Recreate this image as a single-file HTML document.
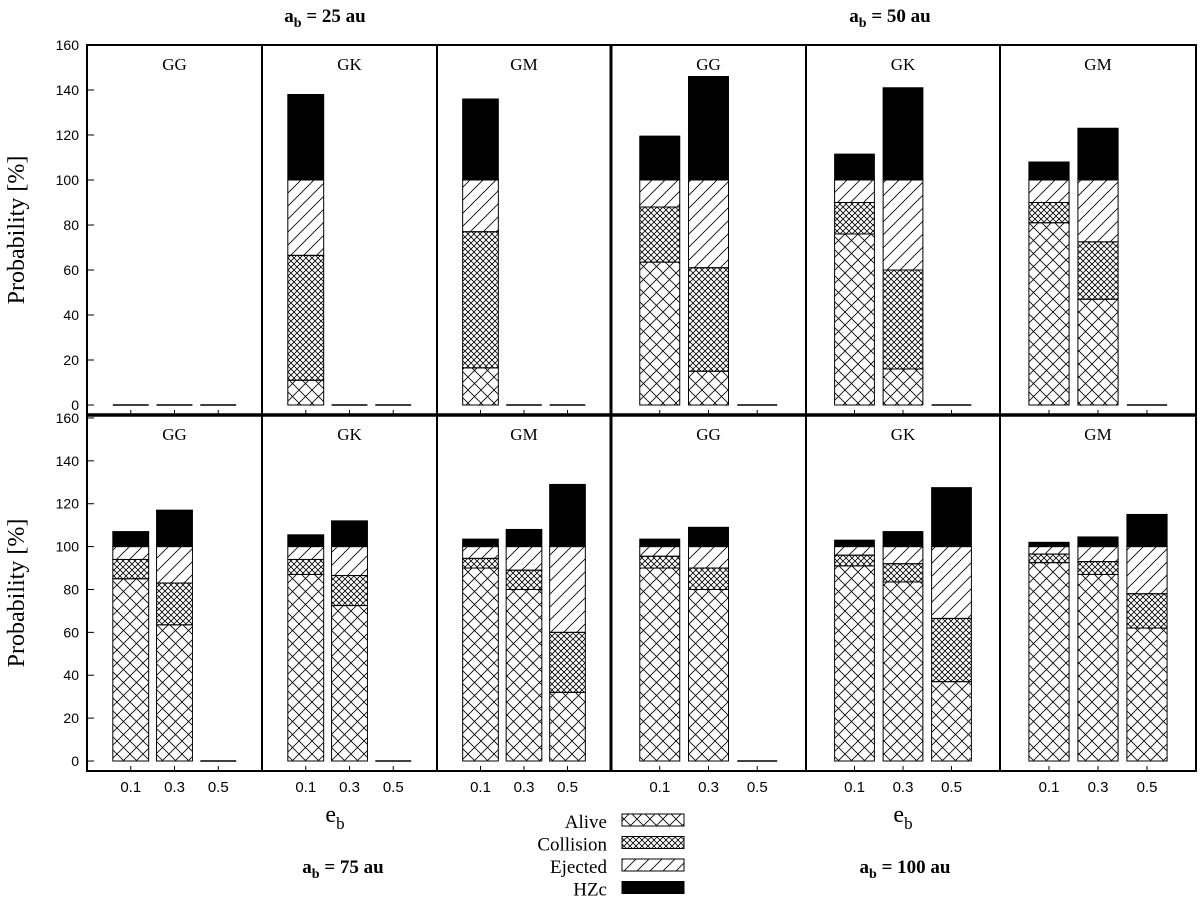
<!DOCTYPE html>
<html><head><meta charset="utf-8"><style>
body{margin:0;background:#fff;}
svg{display:block;font-family:"Liberation Serif",serif;}
</style></head><body>
<svg id="chart" width="1200" height="900" viewBox="0 0 1200 900" xmlns="http://www.w3.org/2000/svg">
<defs>
<pattern id="pAlive" patternUnits="userSpaceOnUse" width="13" height="13"><path d="M0 0L13 13M13 0L0 13" stroke="#000" stroke-width="0.8"/></pattern>
<pattern id="pColl" patternUnits="userSpaceOnUse" width="6" height="6"><path d="M0 0L6 6M6 0L0 6" stroke="#000" stroke-width="0.8"/></pattern>
<pattern id="pEj" patternUnits="userSpaceOnUse" width="13" height="13"><path d="M0 13L13 0M-3 3L3 -3M10 16L16 10" stroke="#000" stroke-width="0.8"/></pattern>
</defs>
</svg>
<script>
const eccLabels=["0.1","0.3","0.5"];
const panelNames=["GG","GK","GM","GG","GK","GM","GG","GK","GM","GG","GK","GM"];
const yTicks=[0,20,40,60,80,100,120,140,160];
// per panel, per eccentricity: Alive, Collision, Ejected, HZc (percent)
const alive=[[0,0,0],[11,0,0],[16.5,0,0],[63.5,15,0],[76,16,0],[81,47,0],
 [85,63.5,0],[87,72.5,0],[90,80,32],[90,80,0],[91,83.5,37],[92.5,87,62]];
const collision=[[0,0,0],[55.5,0,0],[60.5,0,0],[24.5,46,0],[14,44,0],[9,25.5,0],
 [9,19.5,0],[7,14,0],[4.5,9,28],[5.5,10,0],[5,8.5,29.5],[4,6,16]];
const ejected=[[0,0,0],[33.5,0,0],[23,0,0],[12,39,0],[10,40,0],[10,27.5,0],
 [6,17,0],[6,13.5,0],[5.5,11,40],[4.5,10,0],[4,8,33.5],[3.5,7,22]];
const hzc=[[0,0,0],[38,0,0],[36,0,0],[19.5,46,0],[11.5,41,0],[8,23,0],
 [7,17,0],[5.5,12,0],[3.5,8,29],[3.5,9,0],[3,7,27.5],[2,4.5,15]];

const svg=document.getElementById('chart');
const NS="http://www.w3.org/2000/svg";
function mk(tag,attrs,parent){const e=document.createElementNS(NS,tag);for(const k in attrs)e.setAttribute(k,attrs[k]);(parent||svg).appendChild(e);return e;}
const xEdges=[87,262,437,611,806,1000,1196];
const rows=[{top:45,bot:415,zero:405,k:2.25},{top:415,bot:771,zero:761,k:2.144}];
function yScale(r,v){return rows[r].zero-v*rows[r].k;}
const fills=["url(#pAlive)","url(#pColl)","url(#pEj)","#000"];
const names=["alive","collision","ejected","hzc"];
for(let p=0;p<12;p++){
 const r=p<6?0:1, c=p%6;
 const x0=xEdges[c],x1=xEdges[c+1],w=x1-x0;
 const g=mk('g',{});
 
 
 const t=mk('text',{x:(x0+x1)/2,y:rows[r].top+25,'text-anchor':'middle','font-size':17},g);
 t.textContent=panelNames[p];
 
 
 for(let e=0;e<3;e++){
  const cx=x0+w*(e+1)/4, bw=w*0.205;
  const tk=mk('line',{x1:cx,x2:cx,y1:rows[r].bot,y2:rows[r].bot-5,stroke:'#000'},g);
  const vals=[alive[p][e],collision[p][e],ejected[p][e],hzc[p][e]];
  const total=vals.reduce((a,b)=>a+b,0);
  if(total===0){
   const l=mk('line',{x1:cx-bw/2,x2:cx+bw/2,y1:yScale(r,0),y2:yScale(r,0),stroke:'#000','stroke-width':1.5},g);
   
   
   continue;
  }
  let acc=0;
  for(let s=0;s<4;s++){
   if(vals[s]<=0)continue;
   const yA=yScale(r,acc),yB=yScale(r,acc+vals[s]);
   const rc=mk('rect',{x:cx-bw/2,y:yB,width:bw,height:yA-yB,fill:fills[s],stroke:'#000','stroke-width':1},g);
   
   
   acc+=vals[s];
  }
 }
 if(r===1){for(let e=0;e<3;e++){const tl=mk('text',{x:x0+w*(e+1)/4,y:792,'text-anchor':'middle','font-size':15,'font-family':'Liberation Sans, sans-serif'});tl.textContent=eccLabels[e];}}
}
// y axes
for(let r=0;r<2;r++){
 for(const v of yTicks){
  const y=yScale(r,v);
  mk('line',{x1:87,x2:94,y1:y,y2:y,stroke:'#000'});
  const tl=mk('text',{x:79,y:y+5,'text-anchor':'end','font-size':14,'font-family':'Liberation Sans, sans-serif'});
  tl.textContent=v;
  
  
 }
 const yl=mk('text',{x:0,y:0,transform:`translate(24,${(rows[r].top+rows[r].bot)/2}) rotate(-90)`,'text-anchor':'middle','font-size':24});
 yl.textContent='Probability [%]';
 
 
}
// frame
mk('rect',{x:87,y:45,width:1109,height:726,fill:'none',stroke:'#000','stroke-width':2});
mk('line',{x1:87,x2:1196,y1:415,y2:415,stroke:'#000','stroke-width':3.5});
for(let c=1;c<6;c++){mk('line',{x1:xEdges[c],x2:xEdges[c],y1:45,y2:771,stroke:'#000','stroke-width':c===3?3:2});}
// titles
function title(x,y,main,name){const t=mk('text',{x:x,y:y,'text-anchor':'middle','font-size':19,'font-weight':'bold'});t.innerHTML='a<tspan dy="5" font-size="14">b</tspan><tspan dy="-5"> = '+main+'</tspan>';}
title(325,22,'25 au','title-25au');title(890,22,'50 au','title-50au');
title(343,873,'75 au','title-75au');title(905,873,'100 au','title-100au');
function eb(x){const t=mk('text',{x:x,y:822,'text-anchor':'middle','font-size':24});t.innerHTML='e<tspan dy="7" font-size="17">b</tspan>';}
eb(335);eb(903);
// legend
const legLabels=["Alive","Collision","Ejected","HZc"];
for(let i=0;i<4;i++){
 const y=820+i*22.5;
 const t=mk('text',{x:607,y:y+8,'text-anchor':'end','font-size':19});
 t.textContent=legLabels[i];
 
 
 const rc=mk('rect',{x:622,y:y-6,width:62,height:12,fill:fills[i],stroke:'#000','stroke-width':1});
 
 
}
</script>
</body></html>
